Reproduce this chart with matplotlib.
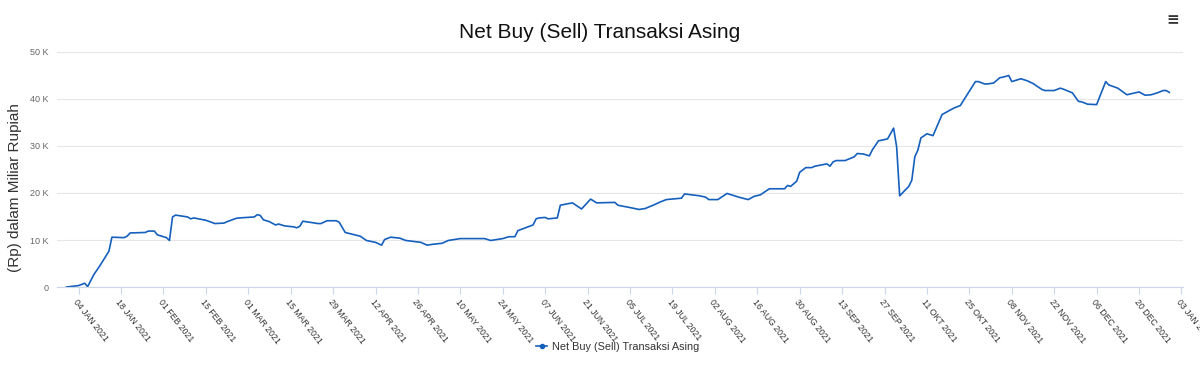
import pandas as pd
import matplotlib
matplotlib.use("Agg")
import matplotlib.pyplot as plt
from matplotlib.lines import Line2D
from matplotlib.ticker import FuncFormatter

# cumulative net buy (sell) of foreign investors, Rp miliar
dates = [
    "2020-12-31", "2021-01-04", "2021-01-06", "2021-01-07", "2021-01-09", "2021-01-11",
    "2021-01-14", "2021-01-15", "2021-01-19", "2021-01-20", "2021-01-21", "2021-01-26",
    "2021-01-27", "2021-01-29", "2021-01-30", "2021-02-02", "2021-02-03", "2021-02-04",
    "2021-02-05", "2021-02-09", "2021-02-10", "2021-02-11", "2021-02-15", "2021-02-18",
    "2021-02-21", "2021-02-22", "2021-02-25", "2021-02-26", "2021-03-03", "2021-03-04",
    "2021-03-05", "2021-03-06", "2021-03-08", "2021-03-10", "2021-03-11", "2021-03-13",
    "2021-03-16", "2021-03-17", "2021-03-18", "2021-03-19", "2021-03-24", "2021-03-25",
    "2021-03-27", "2021-03-30", "2021-03-31", "2021-04-02", "2021-04-07", "2021-04-09",
    "2021-04-12", "2021-04-14", "2021-04-15", "2021-04-17", "2021-04-20", "2021-04-22",
    "2021-04-27", "2021-04-29", "2021-05-01", "2021-05-04", "2021-05-06", "2021-05-10",
    "2021-05-18", "2021-05-20", "2021-05-24", "2021-05-26", "2021-05-28", "2021-05-29",
    "2021-06-03", "2021-06-04", "2021-06-05", "2021-06-07", "2021-06-08", "2021-06-11",
    "2021-06-12", "2021-06-16", "2021-06-19", "2021-06-22", "2021-06-24", "2021-06-30",
    "2021-07-01", "2021-07-05", "2021-07-08", "2021-07-10", "2021-07-13", "2021-07-15",
    "2021-07-17", "2021-07-22", "2021-07-23", "2021-07-28", "2021-07-30", "2021-07-31",
    "2021-08-03", "2021-08-06", "2021-08-10", "2021-08-13", "2021-08-15", "2021-08-17",
    "2021-08-20", "2021-08-25", "2021-08-26", "2021-08-27", "2021-08-29", "2021-08-30",
    "2021-09-01", "2021-09-03", "2021-09-04", "2021-09-08", "2021-09-09", "2021-09-10",
    "2021-09-11", "2021-09-14", "2021-09-17", "2021-09-18", "2021-09-20", "2021-09-22",
    "2021-09-23", "2021-09-25", "2021-09-28", "2021-09-30", "2021-10-01", "2021-10-02",
    "2021-10-05", "2021-10-06", "2021-10-07", "2021-10-08", "2021-10-09", "2021-10-11",
    "2021-10-13", "2021-10-16", "2021-10-20", "2021-10-22", "2021-10-27", "2021-10-28",
    "2021-10-30", "2021-10-31", "2021-11-02", "2021-11-04", "2021-11-06", "2021-11-07",
    "2021-11-08", "2021-11-11", "2021-11-13", "2021-11-15", "2021-11-18", "2021-11-19",
    "2021-11-22", "2021-11-24", "2021-11-25", "2021-11-28", "2021-11-29", "2021-11-30",
    "2021-12-01", "2021-12-03", "2021-12-06", "2021-12-09", "2021-12-10", "2021-12-13",
    "2021-12-16", "2021-12-20", "2021-12-22", "2021-12-24", "2021-12-26", "2021-12-28",
    "2021-12-29", "2021-12-30",
]
net_buy = [
    0, 300, 800, 100, 2600, 4500,
    7600, 10600, 10500, 10800, 11500, 11600,
    11900, 11900, 11100, 10500, 9900, 14900,
    15300, 14900, 14500, 14700, 14200, 13500,
    13600, 13900, 14600, 14700, 14900, 15400,
    15200, 14300, 13900, 13200, 13400, 13000,
    12800, 12600, 12900, 14000, 13500, 13500,
    14100, 14100, 13800, 11600, 10800, 9900,
    9500, 8900, 10100, 10600, 10400, 9900,
    9500, 8900, 9100, 9300, 9900, 10300,
    10300, 9900, 10300, 10700, 10700, 12000,
    13200, 14500, 14700, 14800, 14500, 14700,
    17400, 17900, 16600, 18700, 17900, 18000,
    17400, 16900, 16500, 16700, 17500, 18100,
    18600, 18900, 19800, 19400, 19100, 18600,
    18600, 19900, 19100, 18600, 19300, 19600,
    20900, 20900, 21600, 21400, 22500, 24400,
    25400, 25400, 25700, 26200, 25700, 26600,
    26900, 26900, 27700, 28400, 28300, 27900,
    29200, 31100, 31500, 33800, 29800, 19400,
    21400, 22700, 27700, 29100, 31700, 32600,
    32200, 36700, 38100, 38600, 43700, 43700,
    43200, 43200, 43400, 44500, 44800, 45000,
    43700, 44300, 43900, 43300, 42000, 41800,
    41800, 42300, 42100, 41300, 40400, 39500,
    39400, 38900, 38800, 43700, 43000, 42300,
    40900, 41500, 40800, 40900, 41300, 41800,
    41800, 41400,
]
months = ["JAN", "FEB", "MAR", "APR", "MAY", "JUN",
          "JUL", "AUG", "SEP", "OKT", "NOV", "DEC"]
tick_dates = pd.date_range("2021-01-04", "2022-01-03", freq="14D")
series_name = "Net Buy (Sell) Transaksi Asing"

plt.rcParams["font.family"] = ["Liberation Sans", "DejaVu Sans"]

fig = plt.figure(figsize=(12, 3.7), dpi=100)
ax = fig.add_axes([0.0475, 0.2243, 0.9383, 0.6352])

x = pd.to_datetime(dates)
ax.plot(x, net_buy, color="#1560bd", lw=1.2)

ax.set_ylim(0, 50000)
ax.set_yticks(range(0, 50001, 10000))
ax.yaxis.set_major_formatter(FuncFormatter(lambda v, p: "0" if v == 0 else "%d K" % (v / 1000)))
ax.tick_params(axis="y", length=0, labelsize=6.5, labelcolor="#666666", pad=6)
ax.grid(axis="y", color="#e6e6e6", lw=0.8)
ax.set_axisbelow(True)

ax.set_xlim(pd.Timestamp("2020-12-27 21:00"), pd.Timestamp("2022-01-03 12:00"))
ax.set_xticks(tick_dates)
ax.set_xticklabels(["%02d %s %d" % (d.day, months[d.month - 1], d.year) for d in tick_dates],
                   rotation=-52, ha="left", va="top", rotation_mode="anchor")
ax.tick_params(axis="x", length=5, color="#ccd6eb", labelsize=6.3, labelcolor="#333333", pad=3)

for s in ["top", "right", "left"]:
    ax.spines[s].set_visible(False)
ax.spines["bottom"].set_color("#ccd6eb")

ax.set_ylabel("(Rp) dalam Miliar Rupiah", fontsize=11, color="#333333")
ax.yaxis.set_label_coords(-0.031, 0.425)
fig.text(0.5, 1 - 33 / 370, series_name, ha="center", va="center", fontsize=15, color="#111111")
fig.text(0.977, 1 - 20 / 370, "\u2261", ha="center", va="center", fontsize=11,
         fontweight="bold", family="DejaVu Sans", color="#333333")

handle = Line2D([], [], color="#1560bd", lw=1.2, marker="o", markersize=3)
fig.legend([handle], [series_name], loc="center", bbox_to_anchor=(0.515, 1 - 347 / 370),
           frameon=False, fontsize=7.8, handlelength=1.0, handletextpad=0.5,
           labelcolor="#333333")

fig.savefig("out.png", dpi=100)
